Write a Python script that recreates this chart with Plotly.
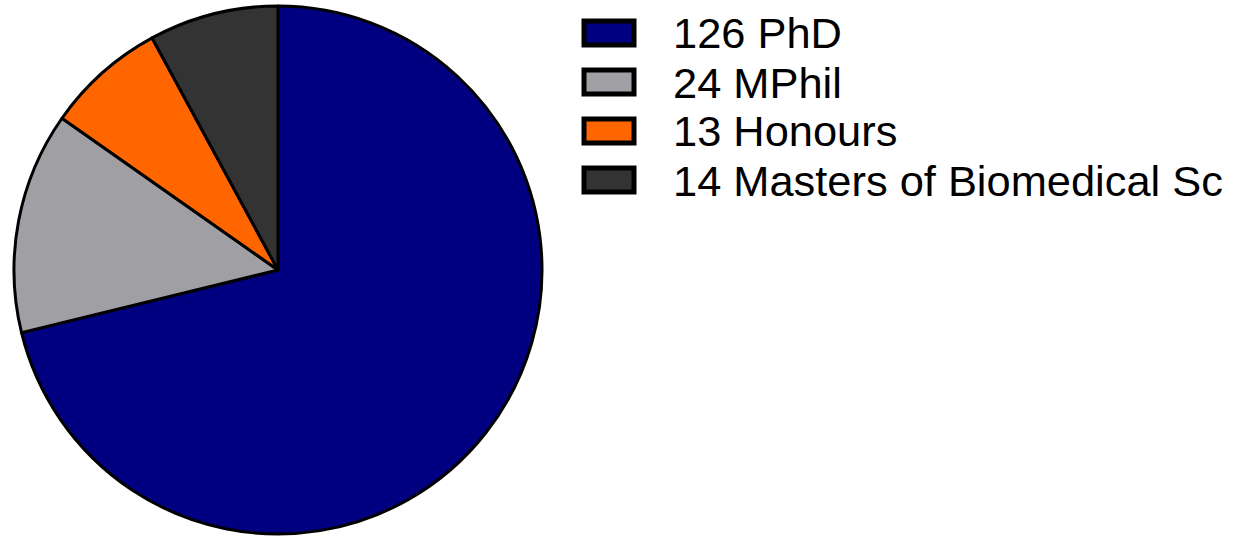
import plotly.graph_objects as go

labels = ["126 PhD", "24 MPhil", "13 Honours", "14 Masters of Biomedical Sc"]
values = [126, 24, 13, 14]
colors = ["#000080", "#A0A0A4", "#FF6600", "#333333"]

W, H = 1235, 540
cx, cy, r = 278, 270, 264

fig = go.Figure(go.Pie(
    labels=labels, values=values, sort=False, direction="clockwise", rotation=0,
    marker=dict(colors=colors, line=dict(color="black", width=3)),
    textinfo="none", hoverinfo="label+value",
    domain=dict(x=[(cx - r) / W, (cx + r) / W], y=[(H - cy - r) / H, (H - cy + r) / H]),
    showlegend=False,
))

# custom legend
x0, bw, bh = 584, 50, 24
y_first, dy = 33, 49
shapes, annots = [], []
for i, (lab, col) in enumerate(zip(labels, colors)):
    yc = y_first + i * dy
    shapes.append(dict(type="rect", xref="paper", yref="paper",
                       x0=x0 / W, x1=(x0 + bw) / W,
                       y0=1 - (yc + bh / 2) / H, y1=1 - (yc - bh / 2) / H,
                       fillcolor=col, line=dict(color="black", width=5)))
    annots.append(dict(text=lab, xref="paper", yref="paper", x=671 / W, y=1 - (yc + 0.5) / H,
                       xanchor="left", yanchor="middle", showarrow=False,
                       font=dict(family="Liberation Sans, Arial", size=43.4, color="black")))

fig.update_layout(width=W, height=H, margin=dict(l=0, r=0, t=0, b=0),
                  paper_bgcolor="white", plot_bgcolor="white",
                  shapes=shapes, annotations=annots)
fig.write_html("out.html", config={"displayModeBar": False},
               post_script="document.body.style.margin='0';document.body.style.overflow='hidden';")
